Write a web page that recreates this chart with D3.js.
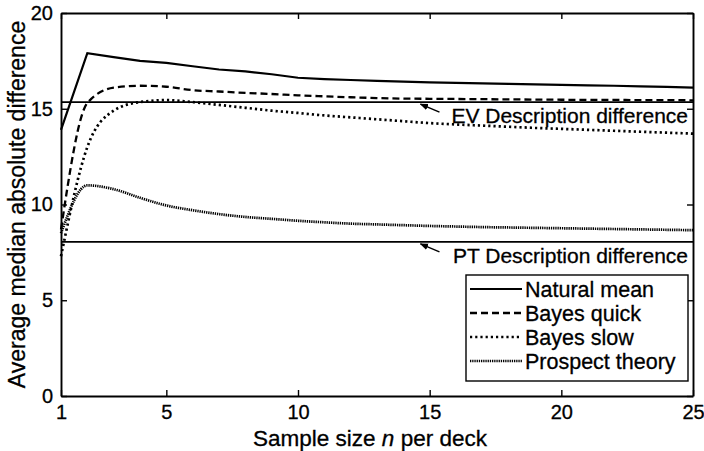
<!DOCTYPE html>
<html>
<head>
<meta charset="utf-8">
<script src="https://cdn.jsdelivr.net/npm/d3@7"></script>
<style>
  body { margin: 0; background: #fff; }
  text { font-family: "Liberation Sans", Arial, Helvetica, sans-serif; fill: #000; stroke: #000; stroke-width: 0.3px; }
</style>
</head>
<body>
<svg id="chart" width="704" height="451"></svg>
<script>
// Sample sizes (x) and the four model curves
const sampleSizes = [1, 2, 3, 4, 5, 6, 7, 8, 9, 10, 11, 12, 13, 14, 15, 16, 17, 18, 19, 20, 21, 22, 23, 24, 25];
const naturalMean = [13.9, 17.9, 17.7, 17.5, 17.4, 17.22, 17.05, 16.95, 16.8, 16.62, 16.55, 16.5, 16.46, 16.42, 16.38, 16.35, 16.32, 16.3, 16.27, 16.25, 16.22, 16.2, 16.17, 16.14, 16.1];
const bayesQuick = [8.7, 15.3, 16.1, 16.2, 16.15, 15.97, 15.9, 15.83, 15.77, 15.7, 15.65, 15.6, 15.56, 15.53, 15.52, 15.51, 15.5, 15.49, 15.48, 15.47, 15.46, 15.46, 15.45, 15.45, 15.44];
const bayesSlow = [7.3, 13.0, 14.9, 15.35, 15.45, 15.35, 15.2, 15.05, 14.9, 14.78, 14.65, 14.55, 14.45, 14.35, 14.25, 14.18, 14.12, 14.06, 14.0, 13.95, 13.9, 13.85, 13.8, 13.75, 13.7];
const prospectTheory = [8.5, 11.0, 10.8, 10.35, 9.95, 9.7, 9.5, 9.35, 9.25, 9.15, 9.07, 9.0, 8.96, 8.92, 8.88, 8.85, 8.82, 8.8, 8.78, 8.76, 8.74, 8.72, 8.7, 8.68, 8.66];

// Reference levels
const evDescription = 15.35;
const ptDescription = 8.05;

const seriesNames = ["Natural mean", "Bayes quick", "Bayes slow", "Prospect theory"];
const xTicks = [1, 5, 10, 15, 20, 25];
const yTicks = [0, 5, 10, 15, 20];

const svg = d3.select('#chart');
const width = 704, height = 451;
const margin = { top: 13, right: 11, bottom: 55, left: 61 };

const x = d3.scaleLinear().domain([1, 25]).range([margin.left, width - margin.right]);
const y = d3.scaleLinear().domain([0, 20]).range([height - margin.bottom, margin.top]);

// line styles per series
const styles = [
  { dash: null, w: 2.2, curve: d3.curveLinear },
  { dash: '7,4', w: 2.3, curve: d3.curveMonotoneX },
  { dash: '2.2,3', w: 2.7, curve: d3.curveMonotoneX },
  { dash: '1.3,0.9', w: 2.7, curve: d3.curveMonotoneX }
];
const allSeries = [naturalMean, bayesQuick, bayesSlow, prospectTheory];

// description reference lines
svg.selectAll('.ref-line')
  .data([evDescription, ptDescription])
  .enter().append('line')
  .attr('class', 'ref-line')
  .attr('x1', x(1)).attr('x2', x(25))
  .attr('y1', d => y(d)).attr('y2', d => y(d))
  .attr('stroke', '#000').attr('stroke-width', 1.7);

// curves
allSeries.forEach((vals, i) => {
  const line = d3.line()
    .x((d, j) => x(sampleSizes[j]))
    .y(d => y(d))
    .curve(styles[i].curve);
  svg.append('path')
    .attr('d', line(vals))
    .attr('fill', 'none')
    .attr('stroke', '#000')
    .attr('stroke-width', styles[i].w)
    .attr('stroke-dasharray', styles[i].dash);
});

// axes (MATLAB style: inward ticks on all four sides)
const axisStyle = g => {
  g.selectAll('.domain').attr('stroke-width', 1.9);
  g.selectAll('.tick line').attr('stroke-width', 1.4);
  g.selectAll('text').style('font-size', '20px').attr('fill', '#000');
};

svg.append('g')
  .attr('transform', `translate(0,${y(0)})`)
  .call(d3.axisBottom(x).tickValues(xTicks).tickSizeInner(-6).tickSizeOuter(0).tickPadding(9))
  .call(axisStyle);
svg.append('g')
  .attr('transform', `translate(0,${y(20)})`)
  .call(d3.axisTop(x).tickValues(xTicks).tickSizeInner(-6).tickSizeOuter(0).tickFormat(''))
  .call(axisStyle);
svg.append('g')
  .attr('transform', `translate(${x(1)},0)`)
  .call(d3.axisLeft(y).tickValues(yTicks).tickSizeInner(-6).tickSizeOuter(0).tickPadding(8))
  .call(axisStyle);
svg.append('g')
  .attr('transform', `translate(${x(25)},0)`)
  .call(d3.axisRight(y).tickValues(yTicks).tickSizeInner(-6).tickSizeOuter(0).tickFormat(''))
  .call(axisStyle);

// axis titles
const xTitle = svg.append('text')
  .attr('x', 370)
  .attr('y', 446)
  .attr('text-anchor', 'middle')
  .style('font-size', '22.5px');
xTitle.append('tspan').text('Sample size ');
xTitle.append('tspan').style('font-style', 'italic').text('n');
xTitle.append('tspan').text(' per deck');

svg.append('text')
  .attr('transform', `translate(25,${(y(0) + y(20)) / 2}) rotate(-90)`)
  .attr('text-anchor', 'middle')
  .style('font-size', '23px')
  .text('Average median absolute difference');

// annotations with arrows
svg.append('defs').append('marker')
  .attr('id', 'arrow')
  .attr('viewBox', '0 0 10 10')
  .attr('refX', 9).attr('refY', 5)
  .attr('markerWidth', 6).attr('markerHeight', 6)
  .attr('orient', 'auto')
  .append('path').attr('d', 'M0,1 L10,5 L0,9 z').attr('fill', '#000');

const notes = [
  { label: 'EV Description difference', level: evDescription },
  { label: 'PT Description difference', level: ptDescription }
];
notes.forEach(n => {
  const tipX = x(14.65), tipY = y(n.level) + 2;
  svg.append('line')
    .attr('x1', tipX + 19).attr('y1', tipY + 8)
    .attr('x2', tipX).attr('y2', tipY)
    .attr('stroke', '#000').attr('stroke-width', 1.4)
    .attr('marker-end', 'url(#arrow)');
  svg.append('text')
    .attr('x', x(25) - 5)
    .attr('y', tipY + 19)
    .attr('text-anchor', 'end')
    .style('font-size', '21px')
    .text(n.label);
});

// legend
const legend = svg.append('g').attr('transform', 'translate(466,275)');
legend.append('rect')
  .attr('width', 222).attr('height', 106)
  .attr('fill', '#fff').attr('stroke', '#000').attr('stroke-width', 1.4);
const rows = legend.selectAll('.row')
  .data(seriesNames)
  .enter().append('g')
  .attr('class', 'row')
  .attr('transform', (d, i) => `translate(0,${14 + i * 24})`);
rows.append('line')
  .attr('x1', 4).attr('x2', 56)
  .attr('stroke', '#000')
  .attr('stroke-width', (d, i) => styles[i].w)
  .attr('stroke-dasharray', (d, i) => styles[i].dash);
rows.append('text')
  .attr('x', 59).attr('dy', '0.35em')
  .style('font-size', '21.5px')
  .text(d => d);
</script>
</body>
</html>
